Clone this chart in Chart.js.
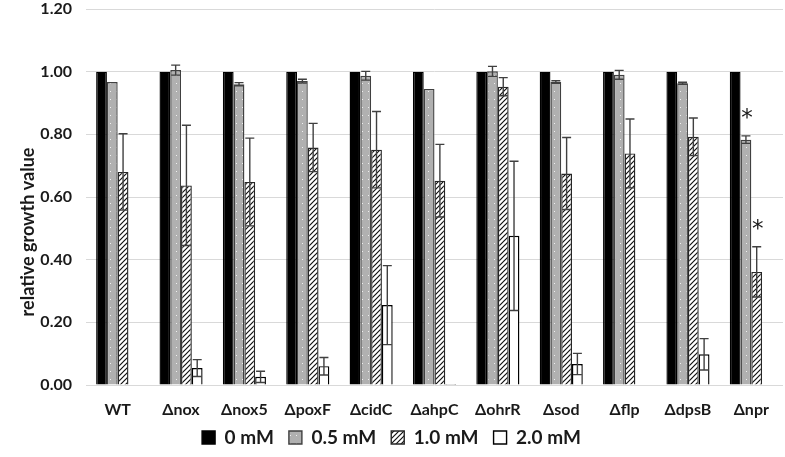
<!DOCTYPE html>
<html>
<head>
<meta charset="utf-8">
<script src="https://cdn.jsdelivr.net/npm/chart.js@4.4.1/dist/chart.umd.min.js"></script>
<style>
  html, body { margin: 0; padding: 0; background: #fff; }
  canvas { display: block; }
</style>
</head>
<body>
<canvas id="growth" width="785" height="457"></canvas>
<script>
// strains on the x axis
var strains = ['WT', 'Δnox', 'Δnox5', 'ΔpoxF', 'ΔcidC', 'ΔahpC', 'ΔohrR', 'Δsod', 'Δflp', 'ΔdpsB', 'Δnpr'];
var seriesNames = ['0 mM', '0.5 mM', '1.0 mM', '2.0 mM'];

// relative growth per concentration, error = sd
var growth0 = [1, 1, 1, 1, 1, 1, 1, 1, 1, 1, 1];
var err0 = [0, 0, 0, 0, 0, 0, 0, 0, 0, 0, 0];
var growth05 = [0.967, 1.005, 0.960, 0.970, 0.987, 0.945, 1.001, 0.967, 0.990, 0.963, 0.783];
var err05 = [0, 0.016, 0.005, 0.006, 0.014, 0, 0.016, 0.004, 0.014, 0.003, 0.012];
var growth10 = [0.680, 0.637, 0.648, 0.758, 0.751, 0.652, 0.952, 0.675, 0.739, 0.792, 0.361];
var err10 = [0.122, 0.192, 0.140, 0.077, 0.122, 0.116, 0.029, 0.115, 0.110, 0.060, 0.080];
var growth20 = [0, 0.054, 0.026, 0.060, 0.255, 0.003, 0.476, 0.067, 0, 0.098, 0];
var err20 = [0, 0.027, 0.018, 0.028, 0.126, 0, 0.238, 0.034, 0, 0.050, 0];

// significance marks (*)
var sig05 = [false, false, false, false, false, false, false, false, false, false, true];
var sig10 = [false, false, false, false, false, false, false, false, false, false, true];

var yTicks = [0, 0.2, 0.4, 0.6, 0.8, 1.0, 1.2];
var yTitle = 'relative growth value';

var textColor = '#1a1a1a';
var fontFamily = 'Lato, "Liberation Sans", sans-serif';

function dotPattern() {
    var c = document.createElement('canvas');
    c.width = 6; c.height = 8;
    var g = c.getContext('2d');
    g.fillStyle = '#b0b0b0';
    g.fillRect(0, 0, 6, 8);
    g.fillStyle = '#f0f0f0';
    g.fillRect(2, 3, 1, 1);
    return g.createPattern(c, 'repeat');
}

function hatchPattern() {
    var c = document.createElement('canvas');
    c.width = 5; c.height = 5;
    var g = c.getContext('2d');
    g.fillStyle = '#fff';
    g.fillRect(0, 0, 5, 5);
    g.strokeStyle = '#111';
    g.lineWidth = 1.2;
    g.beginPath();
    g.moveTo(-1, 6); g.lineTo(6, -1);
    g.moveTo(-1, 1); g.lineTo(1, -1);
    g.moveTo(4, 6); g.lineTo(6, 4);
    g.stroke();
    return g.createPattern(c, 'repeat');
}

function makeSet(i, data, errs, sig, fill, border) {
    return {
        label: seriesNames[i],
        data: data,
        errs: errs,
        sig: sig,
        backgroundColor: fill,
        borderColor: border,
        borderWidth: 1.4,
        barPercentage: 1.0,
        categoryPercentage: 0.68
    };
}

// error bars, asterisks and the y title (placed lower than centre, as in the original)
var errorBarPlugin = {
    id: 'errorBars',
    afterDatasetsDraw: function (chart) {
        var ctx = chart.ctx;
        var y = chart.scales.y;
        ctx.save();
        chart.data.datasets.forEach(function (ds, i) {
            var meta = chart.getDatasetMeta(i);
            meta.data.forEach(function (bar, j) {
                var v = ds.data[j];
                var e = ds.errs ? ds.errs[j] : 0;
                if (e) {
                    var top = y.getPixelForValue(v + e);
                    var bot = y.getPixelForValue(Math.max(v - e, 0));
                    ctx.strokeStyle = '#404040';
                    ctx.lineWidth = 1.4;
                    ctx.beginPath();
                    ctx.moveTo(bar.x, top); ctx.lineTo(bar.x, bot);
                    ctx.moveTo(bar.x - 4.5, top); ctx.lineTo(bar.x + 4.5, top);
                    ctx.moveTo(bar.x - 4.5, bot); ctx.lineTo(bar.x + 4.5, bot);
                    ctx.stroke();
                }
                if (ds.sig && ds.sig[j]) {
                    ctx.fillStyle = textColor;
                    ctx.font = '23px "DejaVu Sans", sans-serif';
                    ctx.textAlign = 'center';
                    ctx.textBaseline = 'middle';
                    ctx.fillText('*', bar.x + 1, y.getPixelForValue(v + e) - 17);
                }
            });
        });
        // axis title
        ctx.translate(28, (y.top + y.bottom) / 2 + 35);
        ctx.rotate(-Math.PI / 2);
        ctx.fillStyle = textColor;
        ctx.font = 'bold 18px ' + fontFamily;
        ctx.textAlign = 'center';
        ctx.textBaseline = 'middle';
        ctx.fillText(yTitle, 0, 0);
        ctx.restore();
    }
};

var ctx = document.getElementById('growth').getContext('2d');

var chart = new Chart(ctx, {
    type: 'bar',
    data: {
        labels: strains,
        datasets: [
            makeSet(0, growth0, err0, null, '#000', '#000'),
            makeSet(1, growth05, err05, sig05, dotPattern(), '#404040'),
            makeSet(2, growth10, err10, sig10, hatchPattern(), '#262626'),
            makeSet(3, growth20, err20, null, '#fff', '#000')
        ]
    },
    options: {
        responsive: false,
        devicePixelRatio: 1,
        animation: false,
        layout: { padding: { top: 9, right: 2, left: 0, bottom: 0 } },
        plugins: {
            tooltip: { enabled: false },
            legend: {
                position: 'bottom',
                labels: {
                    color: textColor,
                    font: { family: fontFamily, size: 19, weight: 'bold' },
                    boxWidth: 13,
                    boxHeight: 13,
                    padding: 15
                }
            }
        },
        scales: {
            x: {
                grid: { display: false },
                border: { display: false },
                afterFit: function (s) {
                    s.height = 28;
                    // let the labels run past the short axis box
                    s._computeLabelArea = function () { return undefined; };
                },
                ticks: {
                    color: textColor,
                    padding: 7,
                    font: { family: fontFamily, size: 16, weight: 'bold' }
                }
            },
            y: {
                min: 0,
                max: 1.2,
                afterBuildTicks: function (s) {
                    s.ticks = yTicks.map(function (v) { return { value: v }; });
                },
                afterFit: function (s) {
                    s.width = 86;
                    s.paddingTop = 0;
                    s.paddingBottom = 0;
                },
                grid: { color: '#d9d9d9', lineWidth: 1, drawTicks: false },
                border: { display: false },
                ticks: {
                    color: textColor,
                    padding: 14,
                    font: { family: fontFamily, size: 16, weight: 'bold' },
                    callback: function (v) { return Number(v).toFixed(2); }
                }
            }
        }
    },
    plugins: [errorBarPlugin]
});
</script>
</body>
</html>
